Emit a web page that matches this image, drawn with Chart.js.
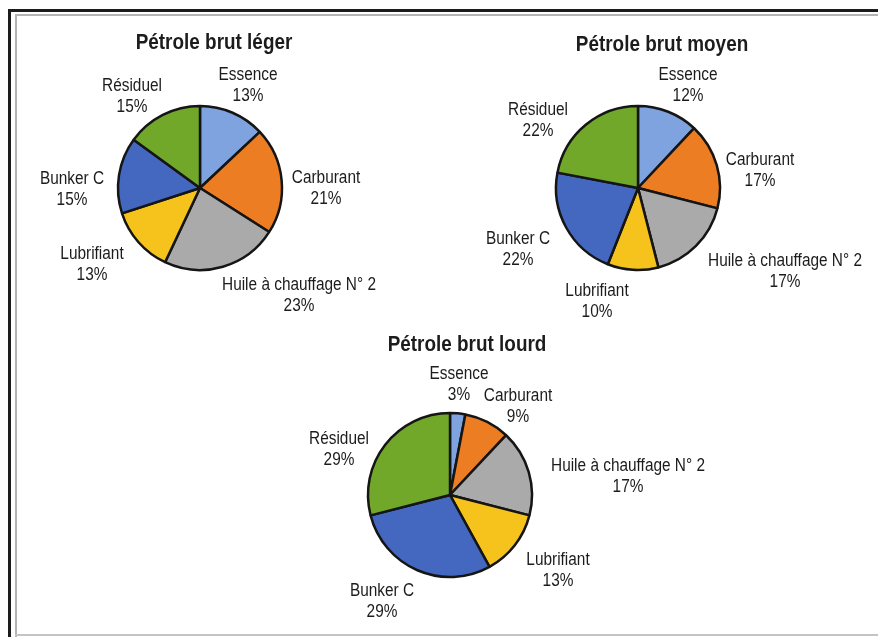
<!DOCTYPE html>
<html>
<head>
<meta charset="utf-8">
<script src="https://cdn.jsdelivr.net/npm/chart.js@4.4.1/dist/chart.umd.min.js"></script>
<style>
  html, body { margin: 0; padding: 0; background: #fff; }
  #page { position: relative; width: 878px; height: 637px; overflow: hidden; background: #fff; }
  #page canvas { position: absolute; left: 0; top: 0; }
  .line { position: absolute; }
</style>
</head>
<body>
<div id="page">
  <div class="line" style="left:8px;top:9px;width:3px;height:628px;background:#1c1c1c"></div>
  <div class="line" style="left:8px;top:9px;width:870px;height:3px;background:#1c1c1c"></div>
  <div class="line" style="left:15px;top:14px;width:2px;height:623px;background:#b4b4b4"></div>
  <div class="line" style="left:15px;top:14px;width:863px;height:2px;background:#b4b4b4"></div>
  <div class="line" style="left:15px;top:634px;width:863px;height:2px;background:#c4c4c4"></div>
  <canvas id="pie1" width="878" height="637"></canvas>
  <canvas id="pie2" width="878" height="637"></canvas>
  <canvas id="pie3" width="878" height="637"></canvas>
</div>
<script>
// data
const categories = ['Essence', 'Carburant', 'Huile à chauffage N° 2', 'Lubrifiant', 'Bunker C', 'Résiduel'];
const legerValues = [13, 21, 23, 13, 15, 15];
const moyenValues = [12, 17, 17, 10, 22, 22];
const lourdValues = [3, 9, 17, 13, 29, 29];
const titles = ['Pétrole brut léger', 'Pétrole brut moyen', 'Pétrole brut lourd'];

const colors = ['#7fa3de', '#ed7d22', '#aaaaaa', '#f5c31c', '#4468bf', '#72a82a'];
const W = 878, H = 637;
const FONT = "'Liberation Sans', Arial, sans-serif";
const SQUEEZE = 0.88;

// label placement, offsets from the pie centre
const layouts = [
    { cx: 200, cy: 188, title: [14, -145],
      labels: [[48, -102], [126, 1], [99, 108], [-108, 77], [-128, 2], [-68, -91]] },
    { cx: 638, cy: 188, title: [24, -143],
      labels: [[50, -102], [122, -17], [147, 84], [-41, 114], [-120, 62], [-100, -67]] },
    { cx: 450, cy: 495, title: [17, -150],
      labels: [[9, -110], [68, -88], [178, -18], [108, 76], [-68, 107], [-111, -45]] }
];

function drawText(ctx, text, x, y, font) {
    ctx.save();
    ctx.translate(x, y);
    ctx.scale(SQUEEZE, 1);
    ctx.font = font;
    ctx.fillText(text, 0, 0);
    ctx.restore();
}

const labelPlugin = {
    id: 'pieLabels',
    afterDraw(chart, args, opts) {
        const ctx = chart.ctx;
        const lay = opts.layout;
        const arcs = chart.getDatasetMeta(0).data;
        const cx = arcs[0].x, cy = arcs[0].y;
        ctx.save();
        ctx.fillStyle = '#1c1c1c';
        ctx.textAlign = 'center';
        ctx.textBaseline = 'middle';
        drawText(ctx, opts.title, cx + lay.title[0], cy + lay.title[1], 'bold 21.5px ' + FONT);
        const values = chart.data.datasets[0].data;
        chart.data.labels.forEach(function (lab, i) {
            const x = cx + lay.labels[i][0], y = cy + lay.labels[i][1];
            drawText(ctx, lab, x, y - 10.5, '17.5px ' + FONT);
            drawText(ctx, values[i] + '%', x, y + 10.5, '17.5px ' + FONT);
        });
        ctx.restore();
    }
};

function makePie(id, values, title, lay) {
    const box = 100;
    new Chart(document.getElementById(id), {
        type: 'pie',
        data: {
            labels: categories,
            datasets: [{
                data: values,
                backgroundColor: colors,
                borderColor: '#151515',
                borderWidth: 2.5,
                hoverOffset: 0
            }]
        },
        options: {
            responsive: false,
            animation: false,
            events: [],
            radius: 82,
            layout: {
                padding: { left: lay.cx - box, right: W - lay.cx - box, top: lay.cy - box, bottom: H - lay.cy - box }
            },
            plugins: {
                legend: { display: false },
                tooltip: { enabled: false },
                pieLabels: { title: title, layout: lay }
            }
        },
        plugins: [labelPlugin]
    });
}

makePie('pie1', legerValues, titles[0], layouts[0]);
makePie('pie2', moyenValues, titles[1], layouts[1]);
makePie('pie3', lourdValues, titles[2], layouts[2]);
</script>
</body>
</html>
